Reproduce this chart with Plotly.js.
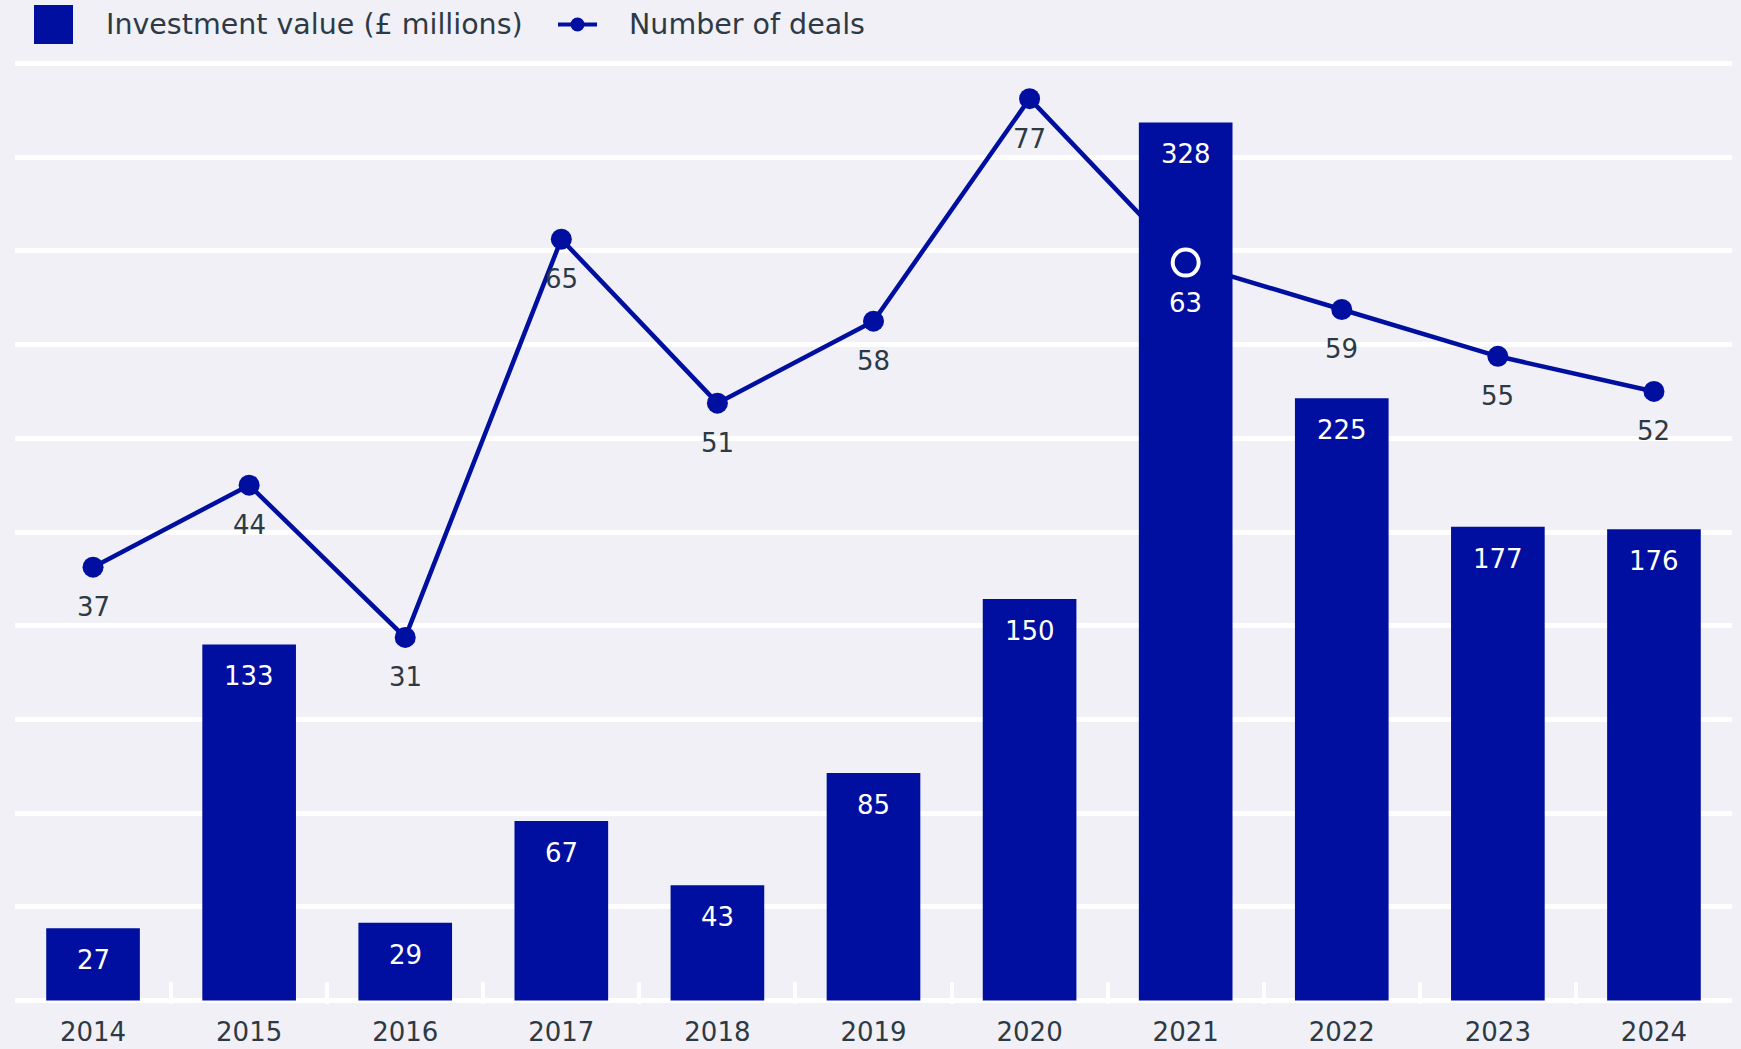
<!DOCTYPE html>
<html>
<head>
<meta charset="utf-8">
<script src="https://cdn.plot.ly/plotly-3.0.1.min.js"></script>
<style>
  html, body { margin: 0; padding: 0; background: #f0f0f6; }
  #chart { width: 1741px; height: 1049px; }
</style>
</head>
<body>
<div id="chart"></div>
<script>
// ---- Data ----
const years = ["2014","2015","2016","2017","2018","2019","2020","2021","2022","2023","2024"];
const investment = [27, 133, 29, 67, 43, 85, 150, 328, 225, 177, 176];
const deals = [37, 44, 31, 65, 51, 58, 77, 63, 59, 55, 52];
const highlightYear = "2021";
const barName = "Investment value (£ millions)";
const lineName = "Number of deals";

// ---- Style ----
const BLUE = "#000f9f";
const BG = "#f0f0f6";
const TXT = "#2d3a45";
const FONT = "'DejaVu Sans', Inter, sans-serif";
const FS = 26;
const LFS = 28.5;

const W = 1741, H = 1049;
const M = {l: 15, r: 9, t: 60, b: 45};
const PW = W - M.l - M.r, PH = H - M.t - M.b;
const PAD = 0.3;             // small range padding so edge gridlines are drawn
const LMAX = 80, BMAX = 350; // axis maxima (deals, investment)
const K = BMAX / LMAX;
const px = x => (x - M.l) / PW;
const py = y => (H - M.b - y) / PH;

const hiIdx = years.indexOf(highlightYear);

const lineTrace = {
  type: "scatter", mode: "lines+markers",
  x: years, y: deals, name: lineName,
  xaxis: "x", yaxis: "y",
  line: {color: BLUE, width: 4.5},
  marker: {color: BLUE, size: 21},
  hoverinfo: "skip"
};
const barTrace = {
  type: "bar", x: years, y: investment, name: barName,
  xaxis: "x", yaxis: "y2",
  marker: {color: BLUE, line: {width: 0}},
  hoverinfo: "skip"
};
const hiTrace = {
  type: "scatter", mode: "markers",
  x: [years[hiIdx]], y: [deals[hiIdx]],
  xaxis: "x", yaxis: "y3",
  marker: {symbol: "circle-open", color: "#ffffff", size: 26, line: {color: "#ffffff", width: 4}},
  hoverinfo: "skip"
};

const annotations = [];
years.forEach((yr, i) => {
  annotations.push({
    x: i, y: investment[i], xref: "x", yref: "y2",
    text: String(investment[i]), showarrow: false,
    yshift: -32, yanchor: "middle",
    font: {family: FONT, size: FS, color: "#ffffff"}
  });
  annotations.push({
    x: i, y: deals[i], xref: "x", yref: "y",
    text: String(deals[i]), showarrow: false,
    yshift: -40, yanchor: "middle",
    font: {family: FONT, size: FS, color: yr === highlightYear ? "#ffffff" : TXT}
  });
});
// legend text
annotations.push({
  xref: "paper", yref: "paper", x: px(104), y: py(24.5), xanchor: "left", yanchor: "middle",
  text: barName, showarrow: false, font: {family: FONT, size: LFS, color: TXT}
});
annotations.push({
  xref: "paper", yref: "paper", x: px(627), y: py(24.5), xanchor: "left", yanchor: "middle",
  text: lineName, showarrow: false, font: {family: FONT, size: LFS, color: TXT}
});

const shapes = [
  {type: "rect", xref: "paper", yref: "paper", x0: px(34), x1: px(73), y0: py(44), y1: py(5),
   fillcolor: BLUE, line: {width: 0}},
  {type: "line", xref: "paper", yref: "paper", x0: px(558), x1: px(597), y0: py(24.5), y1: py(24.5),
   line: {color: BLUE, width: 4}},
  {type: "circle", xref: "paper", yref: "paper", x0: px(570.5), x1: px(584.5), y0: py(31.5), y1: py(17.5),
   fillcolor: BLUE, line: {width: 0}}
];

const layout = {
  width: W, height: H,
  margin: M,
  paper_bgcolor: BG, plot_bgcolor: BG,
  showlegend: false,
  bargap: 0.4,
  font: {family: FONT, size: FS, color: TXT},
  xaxis: {
    type: "category", range: [-0.5, years.length - 0.5], autorange: false,
    tickson: "boundaries",
    ticks: "inside", ticklen: 22, tickwidth: 4, tickcolor: "#ffffff",
    showgrid: false, showline: false, zeroline: false,
    tickfont: {family: FONT, size: FS, color: TXT},
    tickangle: 0,
    ticklabelstandoff: 10,
    fixedrange: true
  },
  yaxis: {
    range: [-PAD, LMAX + PAD], autorange: false, dtick: 8, tick0: 0,
    showgrid: true, gridcolor: "#ffffff", gridwidth: 5,
    zeroline: false, showticklabels: false, ticks: "", showline: false,
    fixedrange: true
  },
  yaxis2: {
    overlaying: "y", range: [-PAD * K, BMAX + PAD * K], autorange: false,
    visible: false, showgrid: false, zeroline: false, fixedrange: true
  },
  yaxis3: {
    overlaying: "y", range: [-PAD, LMAX + PAD], autorange: false,
    visible: false, showgrid: false, zeroline: false, fixedrange: true
  },
  annotations: annotations,
  shapes: shapes
};

Plotly.newPlot("chart", [lineTrace, barTrace, hiTrace], layout, {displayModeBar: false, staticPlot: true});
</script>
</body>
</html>
